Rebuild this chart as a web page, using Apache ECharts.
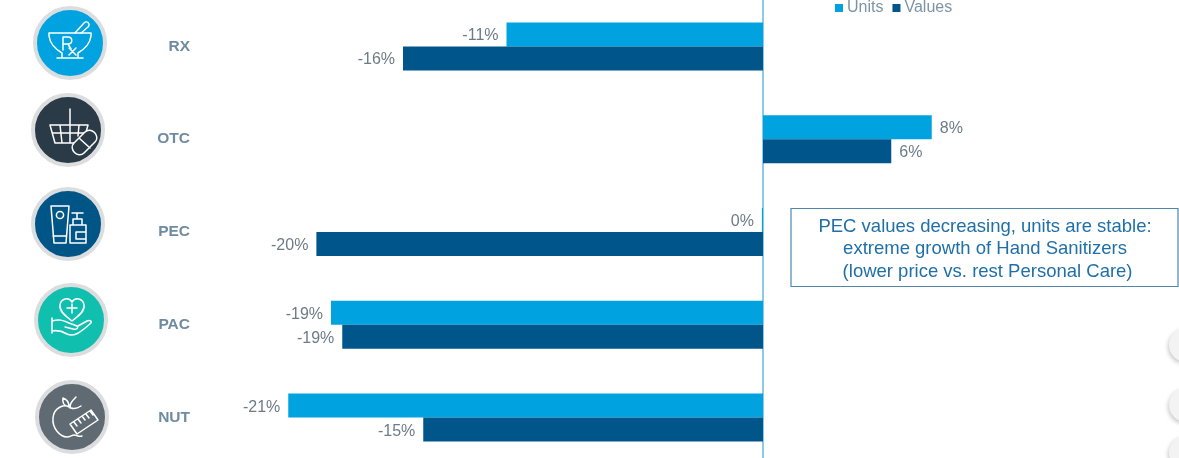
<!DOCTYPE html>
<html><head><meta charset="utf-8">
<style>html,body{margin:0;padding:0;background:#fff;overflow:hidden}#c{width:1179px;height:458px}</style>
<script src="https://cdn.jsdelivr.net/npm/echarts@6/dist/echarts.min.js"></script>
</head><body><div id="c"></div>
<script>
const categories = ['RX','OTC','PEC','PAC','NUT'];
const seriesNames = ['Units','Values'];
const units = [-11.4, 7.5, -0.05, -19.2, -21.1];
const values = [-16, 5.7, -19.85, -18.7, -15.1];
const noteLines = ['PEC values decreasing, units are stable:','extreme growth of Hand Sanitizers',' (lower price vs. rest Personal Care)'];

const FONT = '"Liberation Sans", Arial, sans-serif';
const chart = echarts.init(document.getElementById('c'), null, {renderer:'canvas'});

function mk(arr){
  return arr.map(v => ({value:v, label:{position: v<0 ? 'left':'right'}}));
}
function bar(name, arr, color){
  return {
    name, type:'bar', data:mk(arr), barWidth:24, barGap:'0%',
    itemStyle:{color},
    label:{show:true, distance:8, offset:[0,1.5], color:'#6d7b87', fontSize:16, fontFamily:FONT,
      formatter:p=>Math.round(p.value)+'%'},
    silent:true, animation:false
  };
}
let shapeId = 0;
function stroke(d, fill){
  const name = 'iconShape' + (shapeId++);
  echarts.graphic.registerShape(name, echarts.graphic.extendPath(d, {}));
  return {type:name, silent:true, style:{fill:fill||'none', stroke:'#fff', lineWidth:1.5, lineJoin:'round', lineCap:'round'}};
}
function icon(cx, cy, color, paths){
  return {type:'group', x:cx, y:cy, silent:true, children:[
    {type:'circle', shape:{r:35}, style:{fill:color, stroke:'#dcddde', lineWidth:4}}
  ].concat(paths)};
}
const icons = [
  icon(70,43,'#00a3e0',[
    stroke('M-21,-10H21V-7C20,1 13,7 8,10V15H-8V10C-13,7 -20,1 -21,-7Z M-13,15H13'),
    stroke('M5,-10L14,-20C17,-23 21,-19 18,-16L11,-10'),
    stroke('M-7,7V-6H-2C3,-6 3,1 -2,1H-7M-2,1L1,6M-1,5L6,12M6,5L-1,12'),
  ]),
  icon(68,130,'#2b3a47',[
    stroke('M2,-21V-5M-18,-5H20L17,6 M-18,-5L-13,13H8 M-16,3H18 M-8,-5L-6,13 M2,-5V13 M11,-5L10,6'),
    stroke('M6,13L17,2C23,-4 33,6 27,12L16,23C10,29 0,19 6,13Z M11,8L22,18','#2b3a47'),
  ]),
  icon(68,224,'#005587',[
    stroke('M-17,-18H1L-2,19H-14Z M-15,12H-2'),
    {type:'circle', silent:true, shape:{cx:-8,cy:-9,r:3.6}, style:{fill:'none', stroke:'#fff', lineWidth:1.5}},
    stroke('M2,1H18V19H2Z M5,1V-5H14V1 M9,-5V-11 M4,-11H15 M8,8H18 M8,8V15H18'),
  ]),
  icon(71,320,'#11bfae',[
    stroke('M1,1C-6,-4 -12,-9 -11,-15C-10,-22 -2,-23 1,-18C4,-23 12,-22 13,-15C14,-9 8,-4 1,1Z M1,-16V-7M-4,-12H6'),
    stroke('M-19,-2V13 M-19,1C-12,-1 -8,0 -2,3L6,6C8,8 5,10 2,9L-6,7 M-19,11C-14,10 -9,11 -4,14C2,17 8,14 20,3C21,1 19,0 16,1L7,6'),
  ]),
  icon(72,417,'#5f6a72',[
    stroke('M-1,-9C-7,-14 -18,-10 -19,1C-20,11 -12,20 -5,20C-2,20 0,18 2,18C5,18 7,20 10,19 M-1,-9C2,-8 6,-9 9,-11 M-2,-9C-2,-13 -1,-15 4,-20 M-3,-10C-8,-11 -10,-14 -9,-19C-6,-18 -3,-15 -3,-10Z'),
    stroke('M-2,7L19,-7L26,3L5,17Z M2,5L5,9 M6,2L9,6 M10,-1L13,3 M14,-3L17,1 M18,-6L21,-2','#5f6a72'),
  ]),
];
const pills = [345,405,453].map(y => ({type:'circle', silent:true, shape:{cx:1186,cy:y,r:17},
  style:{fill:'#f3f3f3', shadowBlur:4, shadowColor:'rgba(0,0,0,.22)', shadowOffsetX:-1, shadowOffsetY:2}}));

chart.setOption({
  animation:false,
  backgroundColor:'#fff',
  textStyle:{fontFamily:FONT},
  legend:{data:seriesNames, left:830, top:-5, itemWidth:8, itemHeight:8, itemGap:9, icon:'rect', selectedMode:false,
    textStyle:{color:'#7d94a7', fontSize:16, fontFamily:FONT, padding:[0,0,0,-1]}},
  grid:{left:200.5, right:78.5, top:0, height:464, outerBoundsMode:'none'},
  xAxis:{type:'value', min:-25, max:15, interval:5, show:false},
  yAxis:{type:'category', data:categories, inverse:true,
    axisLine:{show:true, onZero:true, lineStyle:{color:'#8ccbe3', width:2}},
    axisTick:{show:false},
    axisLabel:{margin:10.5, padding:[2,0,0,0], color:'#6f8ba0', fontSize:15.5, fontWeight:'bold', fontFamily:FONT}},
  series:[bar(seriesNames[0],units,'#00a3e0'), bar(seriesNames[1],values,'#00558a')],
  graphic:icons.concat(pills).concat([
    {type:'rect', silent:true, shape:{x:791,y:208.5,width:387,height:78},
      style:{fill:'#fff', stroke:'#4f87a8', lineWidth:1.2}},
    {type:'text', silent:true, x:985, y:249, style:{text:noteLines.join('\n'), fill:'#1f6fa8', fontSize:18.5,
      fontFamily:FONT, align:'center', verticalAlign:'middle', lineHeight:22.5}}
  ])
});
</script></body></html>
